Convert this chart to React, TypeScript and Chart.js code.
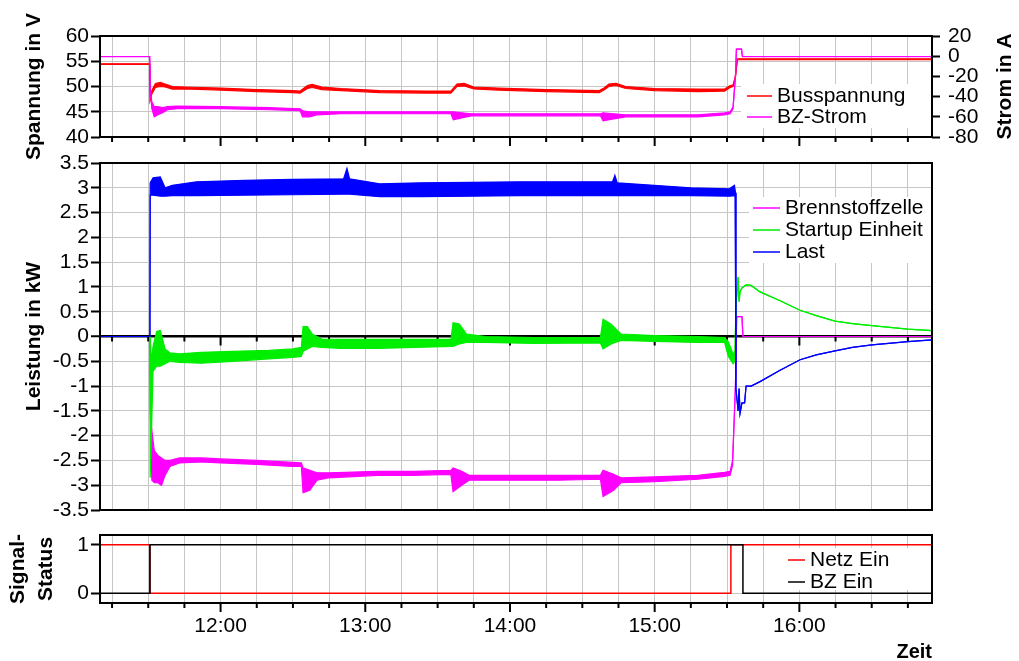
import React, { useEffect, useRef } from "react";
import { Chart, registerables } from "chart.js";
Chart.register(...registerables);

const FONT = '"Liberation Sans", Arial, Helvetica, sans-serif';
const GRID = "#c6c6c6";

// time axis: minutes after midnight
const T_MIN = 670;
const T_MAX = 1015;
const QUARTER_TICKS = [675, 690, 705, 720, 735, 750, 765, 780, 795, 810, 825, 840, 855, 870, 885, 900, 915, 930, 945, 960, 975, 990, 1005];

// ---------- Panel 1: Busspannung (V) ----------
const busT = [670, 690.6, 690.8, 691.5, 693, 695, 697, 700, 705, 720, 735, 750, 753, 756, 758, 762, 770, 786, 805, 815.5, 818, 821, 825, 835, 855, 877, 879, 881, 884, 888, 900, 918, 929, 931.3, 932.5, 933.5, 934.3, 1015];
const busLo = [54.4, 54.4, 47.3, 48.5, 49.8, 50.0, 49.9, 49.5, 49.5, 49.3, 49.0, 48.8, 48.7, 49.6, 49.8, 49.4, 49.2, 48.8, 48.7, 48.7, 50.0, 50.1, 49.5, 49.3, 49.0, 48.8, 49.3, 50.0, 50.2, 49.6, 49.2, 49.0, 49.1, 49.8, 50.0, 52, 55.3, 55.3];
const busHi = [54.5, 54.5, 47.5, 49.2, 50.6, 50.8, 50.5, 50.0, 49.9, 49.7, 49.4, 49.2, 49.1, 50.2, 50.4, 49.9, 49.6, 49.2, 49.1, 49.1, 50.5, 50.6, 49.9, 49.7, 49.4, 49.2, 49.7, 50.5, 50.6, 50.0, 49.6, 49.5, 49.5, 50.2, 50.3, 52, 55.5, 55.5];

// ---------- Panel 1: BZ-Strom (A) ----------
const bzsT = [670, 690.6, 690.9, 691.5, 692.5, 694, 696, 698, 702, 720, 740, 753, 754, 757, 760, 770, 800, 815.5, 816.5, 820, 824, 850, 877.5, 878.6, 883, 888, 918, 929, 931.3, 932.5, 933.5, 933.9, 936, 936.4, 1015];
const bzsLo = [-0.5, -0.5, -35, -52, -60, -58, -56, -53, -52, -52, -53, -54, -60, -60, -58, -57, -57, -57, -63, -61, -59, -59, -59, -64, -62, -60, -60, -58, -57, -52, -20, 7, 7, -0.5, -0.5];
const bzsHi = [-0.3, -0.3, -35, -45, -50, -50, -51, -50, -49.5, -50, -51, -52, -54, -55, -55, -55, -55, -55, -55, -56, -57, -57, -57, -56, -57, -58, -58, -56, -55, -50, -20, 7, 7, -0.3, -0.3];

// ---------- Panel 2: Brennstoffzelle (kW) ----------
const bzT = [670, 690.7, 690.9, 691.5, 692.5, 694, 695.5, 697, 699, 703, 712, 720, 735, 750, 753.5, 754.2, 757, 760, 765, 785, 800, 815.5, 816.4, 820, 823, 840, 860, 877.5, 878.6, 883, 886, 900, 918, 929, 931.3, 932.3, 933.5, 934, 936.2, 936.6, 1015];
const bzLo = [0, 0, -1.6, -2.9, -2.95, -2.95, -3.0, -2.8, -2.62, -2.55, -2.53, -2.55, -2.58, -2.62, -2.62, -3.15, -3.1, -2.9, -2.85, -2.8, -2.8, -2.78, -3.13, -3.0, -2.9, -2.9, -2.9, -2.88, -3.23, -3.1, -2.95, -2.93, -2.88, -2.82, -2.8, -2.6, -1.0, 0.4, 0.4, 0, 0];
const bzHi = [0, 0, -1.5, -1.9, -2.3, -2.4, -2.45, -2.5, -2.5, -2.45, -2.45, -2.47, -2.5, -2.54, -2.55, -2.65, -2.7, -2.75, -2.75, -2.72, -2.72, -2.7, -2.65, -2.72, -2.8, -2.8, -2.8, -2.8, -2.7, -2.78, -2.85, -2.83, -2.8, -2.74, -2.72, -2.5, -1.0, 0.4, 0.4, 0, 0];

// ---------- Panel 2: Startup Einheit (kW) ----------
const stT = [670, 690.7, 690.8, 691.3, 692, 693.5, 695, 697, 699, 703, 712, 725, 740, 750, 753.5, 754.2, 756, 758, 762, 770, 785, 815.5, 816.4, 819, 822, 830, 850, 877.5, 878.6, 882, 886, 900, 918, 929, 930.5, 932.5, 933.3, 933.7, 934.6, 935, 935.4, 936.2, 937.9, 940, 943.7, 952, 960.3, 967, 974.8, 982, 990.1, 1005, 1015];
const stLo = [0, 0, -2.85, -2.0, -0.7, -0.6, -0.6, -0.55, -0.5, -0.52, -0.54, -0.5, -0.45, -0.42, -0.4, -0.3, -0.25, -0.2, -0.22, -0.24, -0.24, -0.2, -0.2, -0.15, -0.12, -0.12, -0.14, -0.13, -0.25, -0.15, -0.08, -0.1, -0.12, -0.12, -0.4, -0.55, -0.5, 0.6, 1.2, 0.7, 0.9, 0.98, 1.04, 1.03, 0.9, 0.72, 0.53, 0.42, 0.31, 0.26, 0.22, 0.15, 0.12];
const stHi = [0, 0, 0, -0.5, -0.2, 0.1, 0.12, -0.25, -0.33, -0.35, -0.32, -0.3, -0.28, -0.25, -0.22, 0.2, 0.2, 0.05, -0.05, -0.06, -0.06, -0.06, 0.28, 0.25, 0.05, 0.0, -0.02, -0.02, 0.35, 0.25, 0.05, 0.02, 0.0, -0.02, -0.1, -0.35, -0.3, 0.6, 1.2, 0.7, 0.9, 0.98, 1.04, 1.03, 0.9, 0.72, 0.53, 0.42, 0.31, 0.26, 0.22, 0.15, 0.12];

// ---------- Panel 2: Last (kW) ----------
const lastT = [670, 690.7, 690.8, 692, 695, 697, 700, 710, 730, 750, 771, 772.4, 773.5, 786, 803, 844, 882.5, 883.5, 884.5, 915, 931, 933.1, 933.4, 933.7, 934.6, 935, 935.4, 936.2, 937.3, 937.9, 940, 943.7, 952, 960.3, 967, 974.8, 982, 990.1, 1005, 1015];
const lastLo = [0, 0, 2.85, 2.85, 2.83, 2.83, 2.84, 2.84, 2.85, 2.86, 2.87, 2.87, 2.87, 2.82, 2.82, 2.84, 2.84, 2.84, 2.84, 2.84, 2.83, 2.84, 2.9, -1.05, -1.5, -1.05, -1.55, -1.34, -1.34, -1.0, -1.0, -0.91, -0.68, -0.47, -0.37, -0.29, -0.22, -0.17, -0.105, -0.07];
const lastHi = [0, 0, 3.1, 3.2, 3.22, 3.0, 3.05, 3.12, 3.15, 3.17, 3.18, 3.39, 3.18, 3.08, 3.1, 3.12, 3.12, 3.25, 3.1, 3.0, 2.98, 3.05, 2.9, -1.05, -1.5, -1.05, -1.55, -1.34, -1.34, -1.0, -1.0, -0.91, -0.68, -0.47, -0.37, -0.29, -0.22, -0.17, -0.105, -0.07];

// ---------- Panel 3: Signal-Status ----------
const netzT = [670, 690.7, 690.7, 931.6, 931.6, 1015];
const netzV = [1, 1, 0, 0, 1, 1];
const bzEinT = [670, 690.7, 690.7, 936.6, 936.6, 1015];
const bzEinV = [0, 0, 1, 1, 0, 0];

const COLORS = { bus: "#ff0000", bzs: "#ff00ff", bz: "#ff00ff", st: "#00ee00", last: "#0000ff", netz: "#ff0000", bzEin: "#000000" };

const pts = (t: number[], v: number[]) => t.map((x, i) => ({ x, y: v[i] }));

function band(label: string, t: number[], lo: number[], hi: number[], color: string, yAxisID = "y") {
  return [
    { label, data: pts(t, hi), borderColor: color, backgroundColor: color, borderWidth: 1.2, pointRadius: 0, fill: "+1", yAxisID, tension: 0 },
    { label: label + " min", data: pts(t, lo), borderColor: color, backgroundColor: color, borderWidth: 1.2, pointRadius: 0, fill: false, yAxisID, tension: 0 },
  ];
}

function fmtTime(v: number) {
  const h = Math.floor(v / 60);
  const m = Math.round(v % 60);
  return `${h}:${String(m).padStart(2, "0")}`;
}

const fmtNum = (v: any) => String(Math.round(Number(v) * 100) / 100);

const decorPlugin = {
  id: "decor",
  beforeDatasetsDraw(chart: any, _a: any, opts: any) {
    if (!opts.zeroTicks) return;
    const { ctx, scales } = chart;
    const y0 = scales.y.getPixelForValue(0);
    ctx.save();
    ctx.strokeStyle = "#000";
    ctx.lineWidth = 2;
    QUARTER_TICKS.forEach((v) => {
      const x = scales.x.getPixelForValue(v);
      const len = v % 60 === 0 ? 9 : 5;
      ctx.beginPath();
      ctx.moveTo(x, y0);
      ctx.lineTo(x, y0 + len);
      ctx.stroke();
    });
    ctx.restore();
  },
  afterDatasetsDraw(chart: any, _a: any, opts: any) {
    const { ctx, chartArea: a, scales } = chart;
    ctx.save();
    if (opts.bottomTicks) {
      ctx.strokeStyle = "#000";
      ctx.lineWidth = 2;
      QUARTER_TICKS.forEach((v) => {
        const x = scales.x.getPixelForValue(v);
        const len = v % 60 === 0 ? 9 : 5;
        ctx.beginPath();
        ctx.moveTo(x, a.bottom);
        ctx.lineTo(x, a.bottom + len);
        ctx.stroke();
      });
    }
    const lg = opts.legend;
    if (lg) {
      ctx.fillStyle = "#fff";
      ctx.fillRect(lg.left, lg.top, lg.width, lg.height);
      ctx.font = `21px ${FONT}`;
      ctx.textBaseline = "middle";
      ctx.textAlign = "left";
      lg.items.forEach((it: any, i: number) => {
        const y = lg.rowY + i * lg.rowGap;
        ctx.strokeStyle = it.color;
        ctx.lineWidth = 1.5;
        ctx.beginPath();
        ctx.moveTo(lg.sampleX0, y);
        ctx.lineTo(lg.sampleX1, y);
        ctx.stroke();
        ctx.fillStyle = "#000";
        ctx.fillText(it.label, lg.textX, y);
      });
    }
    ctx.strokeStyle = "#000";
    ctx.lineWidth = 2;
    ctx.strokeRect(a.left, a.top, a.right - a.left, a.bottom - a.top);
    if (opts.rightTitle) {
      ctx.translate(opts.rightTitle.x, (a.top + a.bottom) / 2);
      ctx.rotate(-Math.PI / 2);
      ctx.font = `bold 21px ${FONT}`;
      ctx.textAlign = "center";
      ctx.textBaseline = "middle";
      ctx.fillStyle = "#000";
      ctx.fillText(opts.rightTitle.text, 0, 0);
    }
    ctx.restore();
  },
};

function timeScale(height: number, showLabels: boolean, withTitle: boolean) {
  return {
    type: "linear",
    min: T_MIN,
    max: T_MAX,
    afterBuildTicks: (s: any) => {
      s.ticks = QUARTER_TICKS.map((v) => ({ value: v }));
    },
    afterFit: (s: any) => {
      s.height = height;
    },
    grid: { color: GRID, lineWidth: 1, drawTicks: false },
    border: { display: false },
    ticks: {
      display: showLabels,
      autoSkip: false,
      maxRotation: 0,
      padding: 11,
      color: "#000",
      font: { size: 21, family: FONT },
      callback: (v: any) => (Number(v) % 60 === 0 ? fmtTime(Number(v)) : ""),
    },
    title: {
      display: withTitle,
      text: "Zeit",
      align: "end",
      color: "#000",
      font: { size: 20, weight: "bold", family: FONT, lineHeight: 1 },
      padding: { top: 0, bottom: -1 },
    },
  };
}

function leftScale(min: number, max: number, step: number, title: string | string[], titlePad: number, lineHeight: number, fixedTicks?: number[]) {
  const zeroLine = min < 0 && max > 0 && !fixedTicks;
  const s: any = {
    type: "linear",
    position: "left",
    min,
    max,
    afterFit: (sc: any) => {
      sc.width = 100;
    },
    ticks: { stepSize: step, autoSkip: false, padding: 2, color: "#000", font: { size: 21, family: FONT }, callback: fmtNum },
    grid: {
      color: (c: any) => (zeroLine && c.tick && c.tick.value === 0 ? "#000" : GRID),
      lineWidth: (c: any) => (zeroLine && c.tick && c.tick.value === 0 ? 2.5 : 1),
      tickColor: "#000",
      tickWidth: 2,
      tickLength: 9,
    },
    border: { display: false },
    title: {
      display: true,
      text: title,
      color: "#000",
      font: { size: 21, weight: "bold", family: FONT, lineHeight },
      padding: { top: titlePad, bottom: 0 },
    },
  };
  if (fixedTicks) {
    s.afterBuildTicks = (sc: any) => {
      sc.ticks = fixedTicks.map((v) => ({ value: v }));
    };
  }
  return s;
}

const baseOptions = (padTop: number, padRight: number) => ({
  responsive: false,
  maintainAspectRatio: false,
  animation: false,
  devicePixelRatio: 1,
  events: [],
  layout: { padding: { top: padTop, right: padRight, left: 0, bottom: 0 } },
});

function makeConfig1() {
  return {
    type: "line",
    data: {
      datasets: [
        ...band("BZ-Strom", bzsT, bzsLo, bzsHi, COLORS.bzs, "y2"),
        ...band("Busspannung", busT, busLo, busHi, COLORS.bus, "y"),
      ],
    },
    options: {
      ...baseOptions(36, 0),
      scales: {
        x: timeScale(38, false, false),
        y: leftScale(40, 60, 5, "Spannung in V", 22, 1.2),
        y2: {
          type: "linear",
          position: "right",
          min: -80,
          max: 20,
          afterFit: (sc: any) => {
            sc.width = 87;
          },
          ticks: { stepSize: 20, autoSkip: false, padding: 8, color: "#000", font: { size: 21, family: FONT }, callback: fmtNum },
          grid: { drawOnChartArea: false, tickColor: "#000", tickWidth: 2, tickLength: 8 },
          border: { display: false },
          title: { display: false },
        },
      },
      plugins: {
        legend: { display: false },
        tooltip: { enabled: false },
        decor: {
          bottomTicks: true,
          rightTitle: { text: "Strom in A", x: 1005 },
          legend: {
            left: 741, top: 84, width: 190, height: 44,
            rowY: 96, rowGap: 21, sampleX0: 747, sampleX1: 772, textX: 777,
            items: [
              { label: "Busspannung", color: COLORS.bus },
              { label: "BZ-Strom", color: COLORS.bzs },
            ],
          },
        },
      },
    },
    plugins: [decorPlugin],
  };
}

function makeConfig2() {
  return {
    type: "line",
    data: {
      datasets: [
        ...band("Last", lastT, lastLo, lastHi, COLORS.last),
        ...band("Startup Einheit", stT, stLo, stHi, COLORS.st),
        ...band("Brennstoffzelle", bzT, bzLo, bzHi, COLORS.bz),
      ],
    },
    options: {
      ...baseOptions(23, 87),
      scales: {
        x: timeScale(15, false, false),
        y: leftScale(-3.5, 3.5, 0.5, "Leistung in kW", 22, 1.2),
      },
      plugins: {
        legend: { display: false },
        tooltip: { enabled: false },
        decor: {
          zeroTicks: true,
          legend: {
            left: 749, top: 57, width: 182, height: 66,
            rowY: 68, rowGap: 22, sampleX0: 753, sampleX1: 780, textX: 785,
            items: [
              { label: "Brennstoffzelle", color: COLORS.bz },
              { label: "Startup Einheit", color: COLORS.st },
              { label: "Last", color: COLORS.last },
            ],
          },
        },
      },
    },
    plugins: [decorPlugin],
  };
}

function makeConfig3() {
  return {
    type: "line",
    data: {
      datasets: [
        { label: "BZ Ein", data: pts(bzEinT, bzEinV), borderColor: COLORS.bzEin, borderWidth: 1.5, pointRadius: 0, fill: false, tension: 0 },
        { label: "Netz Ein", data: pts(netzT, netzV), borderColor: COLORS.netz, borderWidth: 1.5, pointRadius: 0, fill: false, tension: 0 },
      ],
    },
    options: {
      ...baseOptions(15, 87),
      scales: {
        x: timeScale(58, true, true),
        y: leftScale(-0.2, 1.2, 1, ["Signal-", "Status"], 4, 1.34, [0, 1]),
      },
      plugins: {
        legend: { display: false },
        tooltip: { enabled: false },
        decor: {
          bottomTicks: true,
          legend: {
            left: 782, top: 28, width: 149, height: 42,
            rowY: 40, rowGap: 22, sampleX0: 788, sampleX1: 805, textX: 810,
            items: [
              { label: "Netz Ein", color: COLORS.netz },
              { label: "BZ Ein", color: COLORS.bzEin },
            ],
          },
        },
      },
    },
    plugins: [decorPlugin],
  };
}

export default function App() {
  const r1 = useRef<HTMLCanvasElement>(null);
  const r2 = useRef<HTMLCanvasElement>(null);
  const r3 = useRef<HTMLCanvasElement>(null);

  useEffect(() => {
    Chart.defaults.font.family = FONT;
    const charts = [
      new Chart(r1.current as HTMLCanvasElement, makeConfig1() as any),
      new Chart(r2.current as HTMLCanvasElement, makeConfig2() as any),
      new Chart(r3.current as HTMLCanvasElement, makeConfig3() as any),
    ];
    return () => charts.forEach((c) => c.destroy());
  }, []);

  const cv = (top: number, h: number): React.CSSProperties => ({ position: "absolute", left: 0, top, width: 1019, height: h });

  return (
    <div style={{ position: "fixed", left: 0, top: 0, width: 1019, height: 661, background: "#fff" }}>
      <canvas ref={r1} width={1019} height={175} style={cv(0, 175)} />
      <canvas ref={r2} width={1019} height={385} style={cv(140, 385)} />
      <canvas ref={r3} width={1019} height={141} style={cv(520, 141)} />
    </div>
  );
}
